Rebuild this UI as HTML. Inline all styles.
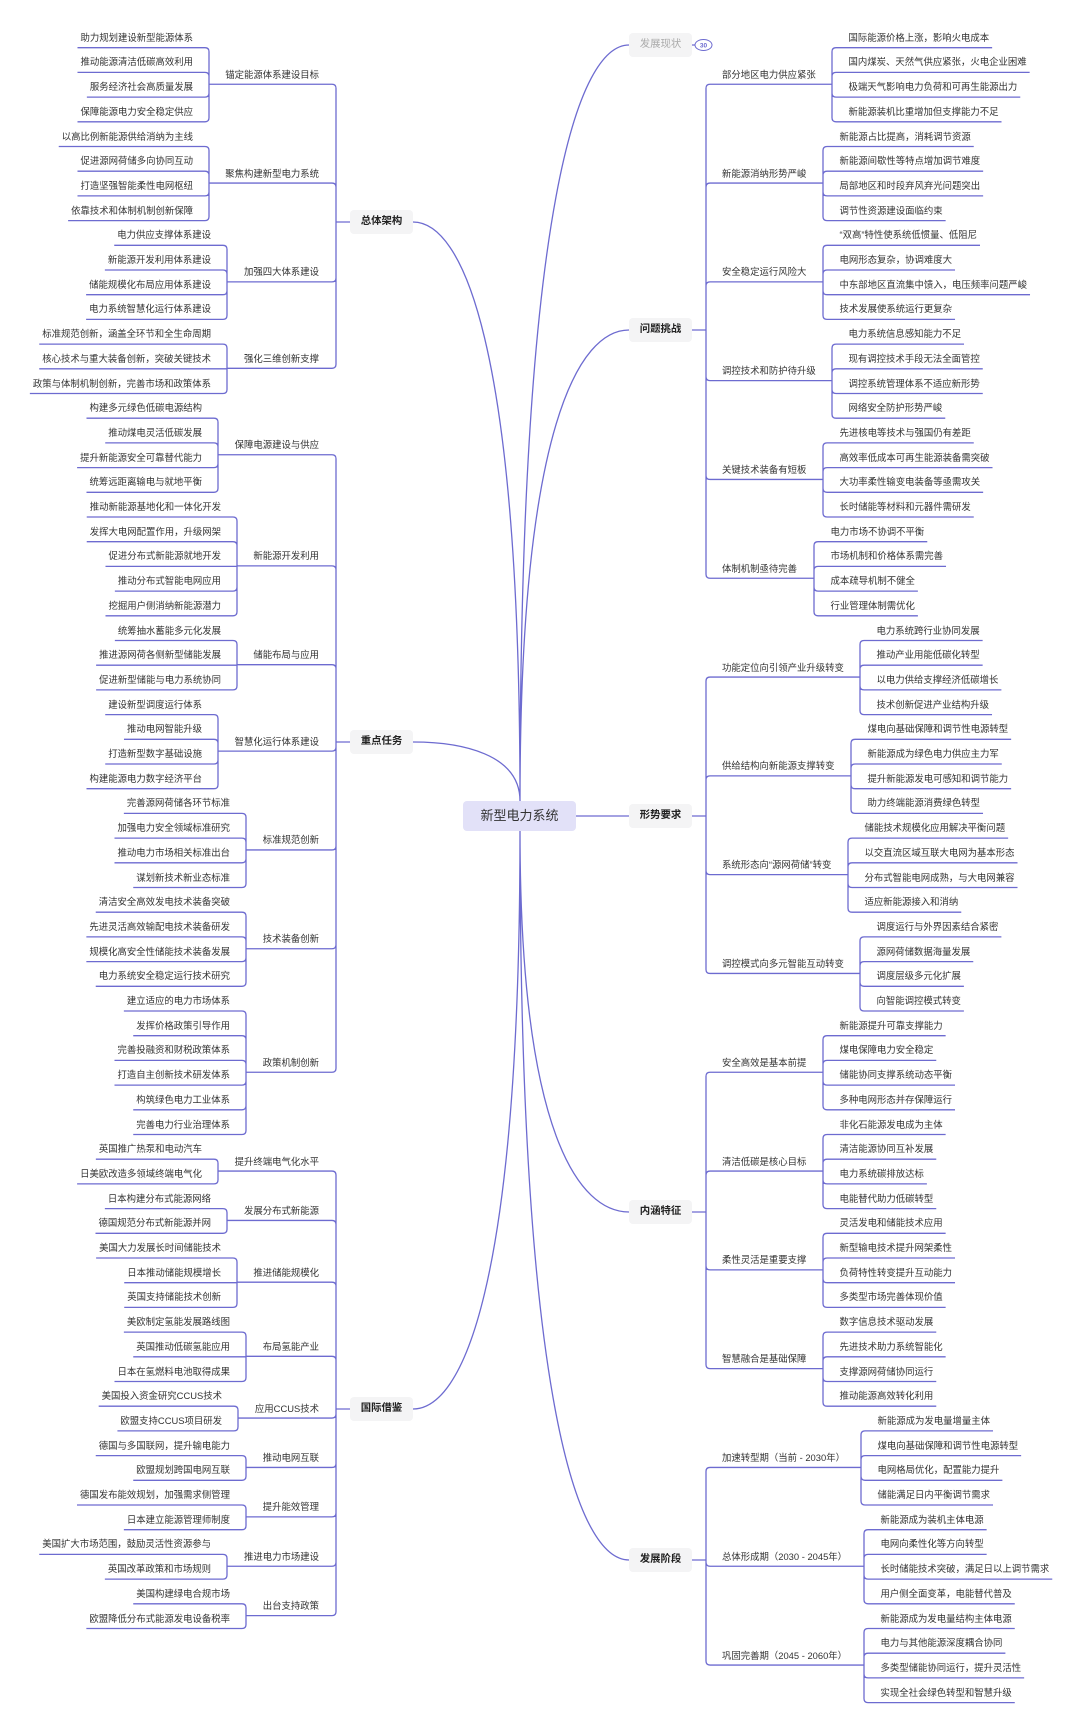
<!DOCTYPE html>
<html><head><meta charset="utf-8">
<style>
html,body{margin:0;padding:0;background:#fff;}
#wrap{position:relative;width:1080px;height:1734px;overflow:hidden;background:#fff;}
svg{position:absolute;left:0;top:0;}
.t{position:absolute;white-space:nowrap;font-family:"Liberation Sans","Noto Sans CJK SC",sans-serif;font-size:9.4px;color:#333;line-height:12px;}
.m{position:absolute;font-family:"Liberation Sans","Noto Sans CJK SC",sans-serif;font-size:10.4px;font-weight:bold;color:#222;background:#f4f4f5;border-radius:4px;text-align:center;line-height:24px;height:24px;}
</style></head><body>
<div id="wrap">
<svg id="s" width="1080" height="1734" viewBox="0 0 1080 1734"></svg>
<div class="m" style="left:463px;top:801px;width:113px;height:30px;line-height:30px;font-size:13px;font-weight:normal;background:#e2e1f8;color:#333;">新型电力系统</div>
</div>
<script>
var C='#6d6bd0';
var wrap=document.getElementById('wrap'),svg=document.getElementById('s');
var d='';
function P(s){d+=s+' ';}
function txt(s,x,y,cls,align){var e=document.createElement('div');e.className=cls||'t';e.textContent=s;wrap.appendChild(e);var w=e.getBoundingClientRect().width;
 if(align==='r'){e.style.left=(x-w)+'px';}else e.style.left=x+'px';e.style.top=(y-6)+'px';return w;}
function row(i){return 37.7+24.7*i;}
var R=4;
function bracket(bx,by,ly,ex,dir){
 if(Math.abs(ly-by)<R){P('M'+bx+' '+by+' L'+bx+' '+ly+' L'+ex+' '+ly);return;}
 var s=ly>by?1:-1;
 P('M'+bx+' '+by+' L'+bx+' '+(ly-s*R)+' Q'+bx+' '+ly+' '+(bx+dir*R)+' '+ly+' L'+ex+' '+ly);
}
var right=[
['问题挑战',330,[
['部分地区电力供应紧张',['国际能源价格上涨，影响火电成本','国内煤炭、天然气供应紧张，火电企业困难','极端天气影响电力负荷和可再生能源出力','新能源装机比重增加但支撑能力不足']],
['新能源消纳形势严峻',['新能源占比提高，消耗调节资源','新能源间歇性等特点增加调节难度','局部地区和时段弃风弃光问题突出','调节性资源建设面临约束']],
['安全稳定运行风险大',['“双高”特性使系统低惯量、低阻尼','电网形态复杂，协调难度大','中东部地区直流集中馈入，电压频率问题严峻','技术发展使系统运行更复杂']],
['调控技术和防护待升级',['电力系统信息感知能力不足','现有调控技术手段无法全面管控','调控系统管理体系不适应新形势','网络安全防护形势严峻']],
['关键技术装备有短板',['先进核电等技术与强国仍有差距','高效率低成本可再生能源装备需突破','大功率柔性输变电装备等亟需攻关','长时储能等材料和元器件需研发']],
['体制机制亟待完善',['电力市场不协调不平衡','市场机制和价格体系需完善','成本疏导机制不健全','行业管理体制需优化']]]],
['形势要求',816,[
['功能定位向引领产业升级转变',['电力系统跨行业协同发展','推动产业用能低碳化转型','以电力供给支撑经济低碳增长','技术创新促进产业结构升级']],
['供给结构向新能源支撑转变',['煤电向基础保障和调节性电源转型','新能源成为绿色电力供应主力军','提升新能源发电可感知和调节能力','助力终端能源消费绿色转型']],
['系统形态向“源网荷储”转变',['储能技术规模化应用解决平衡问题','以交直流区域互联大电网为基本形态','分布式智能电网成熟，与大电网兼容','适应新能源接入和消纳']],
['调控模式向多元智能互动转变',['调度运行与外界因素结合紧密','源网荷储数据海量发展','调度层级多元化扩展','向智能调控模式转变']]]],
['内涵特征',1212,[
['安全高效是基本前提',['新能源提升可靠支撑能力','煤电保障电力安全稳定','储能协同支撑系统动态平衡','多种电网形态并存保障运行']],
['清洁低碳是核心目标',['非化石能源发电成为主体','清洁能源协同互补发展','电力系统碳排放达标','电能替代助力低碳转型']],
['柔性灵活是重要支撑',['灵活发电和储能技术应用','新型输电技术提升网架柔性','负荷特性转变提升互动能力','多类型市场完善体现价值']],
['智慧融合是基础保障',['数字信息技术驱动发展','先进技术助力系统智能化','支撑源网荷储协同运行','推动能源高效转化利用']]]],
['发展阶段',1560,[
['加速转型期（当前 - 2030年）',['新能源成为发电量增量主体','煤电向基础保障和调节性电源转型','电网格局优化，配置能力提升','储能满足日内平衡调节需求']],
['总体形成期（2030 - 2045年）',['新能源成为装机主体电源','电网向柔性化等方向转型','长时储能技术突破，满足日以上调节需求','用户侧全面变革，电能替代普及']],
['巩固完善期（2045 - 2060年）',['新能源成为发电量结构主体电源','电力与其他能源深度耦合协同','多类型储能协同运行，提升灵活性','实现全社会绿色转型和智慧升级']]]]
];
var left=[
['总体架构',222,[
['锚定能源体系建设目标',['助力规划建设新型能源体系','推动能源清洁低碳高效利用','服务经济社会高质量发展','保障能源电力安全稳定供应']],
['聚焦构建新型电力系统',['以高比例新能源供给消纳为主线','促进源网荷储多向协同互动','打造坚强智能柔性电网枢纽','依靠技术和体制机制创新保障']],
['加强四大体系建设',['电力供应支撑体系建设','新能源开发利用体系建设','储能规模化布局应用体系建设','电力系统智慧化运行体系建设']],
['强化三维创新支撑',['标准规范创新，涵盖全环节和全生命周期','核心技术与重大装备创新，突破关键技术','政策与体制机制创新，完善市场和政策体系']]]],
['重点任务',742,[
['保障电源建设与供应',['构建多元绿色低碳电源结构','推动煤电灵活低碳发展','提升新能源安全可靠替代能力','统筹远距离输电与就地平衡']],
['新能源开发利用',['推动新能源基地化和一体化开发','发挥大电网配置作用，升级网架','促进分布式新能源就地开发','推动分布式智能电网应用','挖掘用户侧消纳新能源潜力']],
['储能布局与应用',['统筹抽水蓄能多元化发展','推进源网荷各侧新型储能发展','促进新型储能与电力系统协同']],
['智慧化运行体系建设',['建设新型调度运行体系','推动电网智能升级','打造新型数字基础设施','构建能源电力数字经济平台']],
['标准规范创新',['完善源网荷储各环节标准','加强电力安全领域标准研究','推动电力市场相关标准出台','谋划新技术新业态标准']],
['技术装备创新',['清洁安全高效发电技术装备突破','先进灵活高效输配电技术装备研发','规模化高安全性储能技术装备发展','电力系统安全稳定运行技术研究']],
['政策机制创新',['建立适应的电力市场体系','发挥价格政策引导作用','完善投融资和财税政策体系','打造自主创新技术研发体系','构筑绿色电力工业体系','完善电力行业治理体系']]]],
['国际借鉴',1409,[
['提升终端电气化水平',['英国推广热泵和电动汽车','日美欧改造多领域终端电气化']],
['发展分布式新能源',['日本构建分布式能源网络','德国规范分布式新能源并网']],
['推进储能规模化',['美国大力发展长时间储能技术','日本推动储能规模增长','英国支持储能技术创新']],
['布局氢能产业',['美欧制定氢能发展路线图','英国推动低碳氢能应用','日本在氢燃料电池取得成果']],
['应用CCUS技术',['美国投入资金研究CCUS技术','欧盟支持CCUS项目研发']],
['推动电网互联',['德国与多国联网，提升输电能力','欧盟规划跨国电网互联']],
['提升能效管理',['德国发布能效规划，加强需求侧管理','日本建立能源管理师制度']],
['推进电力市场建设',['美国扩大市场范围，鼓励灵活性资源参与','英国改革政策和市场规则']],
['出台支持政策',['美国构建绿电合规市场','欧盟降低分布式能源发电设备税率']]]]
];
function mainNode(name,x,y){var e=document.createElement('div');e.className='m';e.textContent=name;e.style.width='63px';e.style.left=x+'px';e.style.top=(y-12)+'px';wrap.appendChild(e);}
function curve(x1,y1){
 var cx=520,cy=y1<816?801:831;
 var c1x=x1-(x1-cx)*0.45,c2y=y1+(cy-y1)*0.2;
 P('M'+x1+' '+y1+' C'+c1x+' '+y1+' '+cx+' '+c2y+' '+cx+' '+cy);
}
var RV=706,RX=629,RT=722;
var r=0;
right.forEach(function(mn){
 var name=mn[0],my=mn[1],br=mn[2];
 mainNode(name,RX,my);
 if(name==='形势要求'){P('M576 816 L'+RX+' 816');} else curve(RX,my);
 P('M'+(RX+63)+' '+my+' L'+RV+' '+my);
 br.forEach(function(b){
  var n=b[1].length,ty=(row(r)+row(r+n-1))/2,uy=ty+9.5;
  var w=txt(b[0],RT,ty);var bx=Math.round(RT+w+16.5);
  bracket(RV,my,uy,bx,1);
  b[1].forEach(function(l,k){var ly=row(r+k);var lw=txt(l,bx+16.5,ly);bracket(bx,uy,ly+10,bx+16.5+lw+3,1);});
  r+=n;
 });
});
var LV=336,LX=350,LT=319;
r=0;
left.forEach(function(mn){
 var name=mn[0],my=mn[1],br=mn[2];
 mainNode(name,LX,my);
 curve(LX+63,my);
 P('M'+LX+' '+my+' L'+LV+' '+my);
 br.forEach(function(b){
  var n=b[1].length,ty=(row(r)+row(r+n-1))/2,uy=ty+9.5;
  var w=txt(b[0],LT,ty,'t','r');var bx=Math.round(LT-w-16.5);
  bracket(LV,my,uy,bx,-1);
  b[1].forEach(function(l,k){var ly=row(r+k);var lw=txt(l,bx-16,ly,'t','r');bracket(bx,uy,ly+10,bx-16-lw-3,-1);});
  r+=n;
 });
});
var e=document.createElement('div');e.className='m';e.textContent='发展现状';e.style.cssText='left:'+RX+'px;top:33px;width:63px;color:#aaa;font-weight:normal;';wrap.appendChild(e);
curve(RX,45);
P('M692 45 L695 45');
svg.innerHTML='<path d="'+d+'" fill="none" stroke="'+C+'" stroke-width="1.3"/>'+
'<ellipse cx="703.5" cy="45" rx="8.5" ry="5.5" fill="#fff" stroke="'+C+'" stroke-width="1"/>'+
'<text x="703.5" y="47.3" font-size="6.5" font-family="Liberation Sans" fill="'+C+'" text-anchor="middle" font-weight="bold">30</text>';
</script>
</body></html>
